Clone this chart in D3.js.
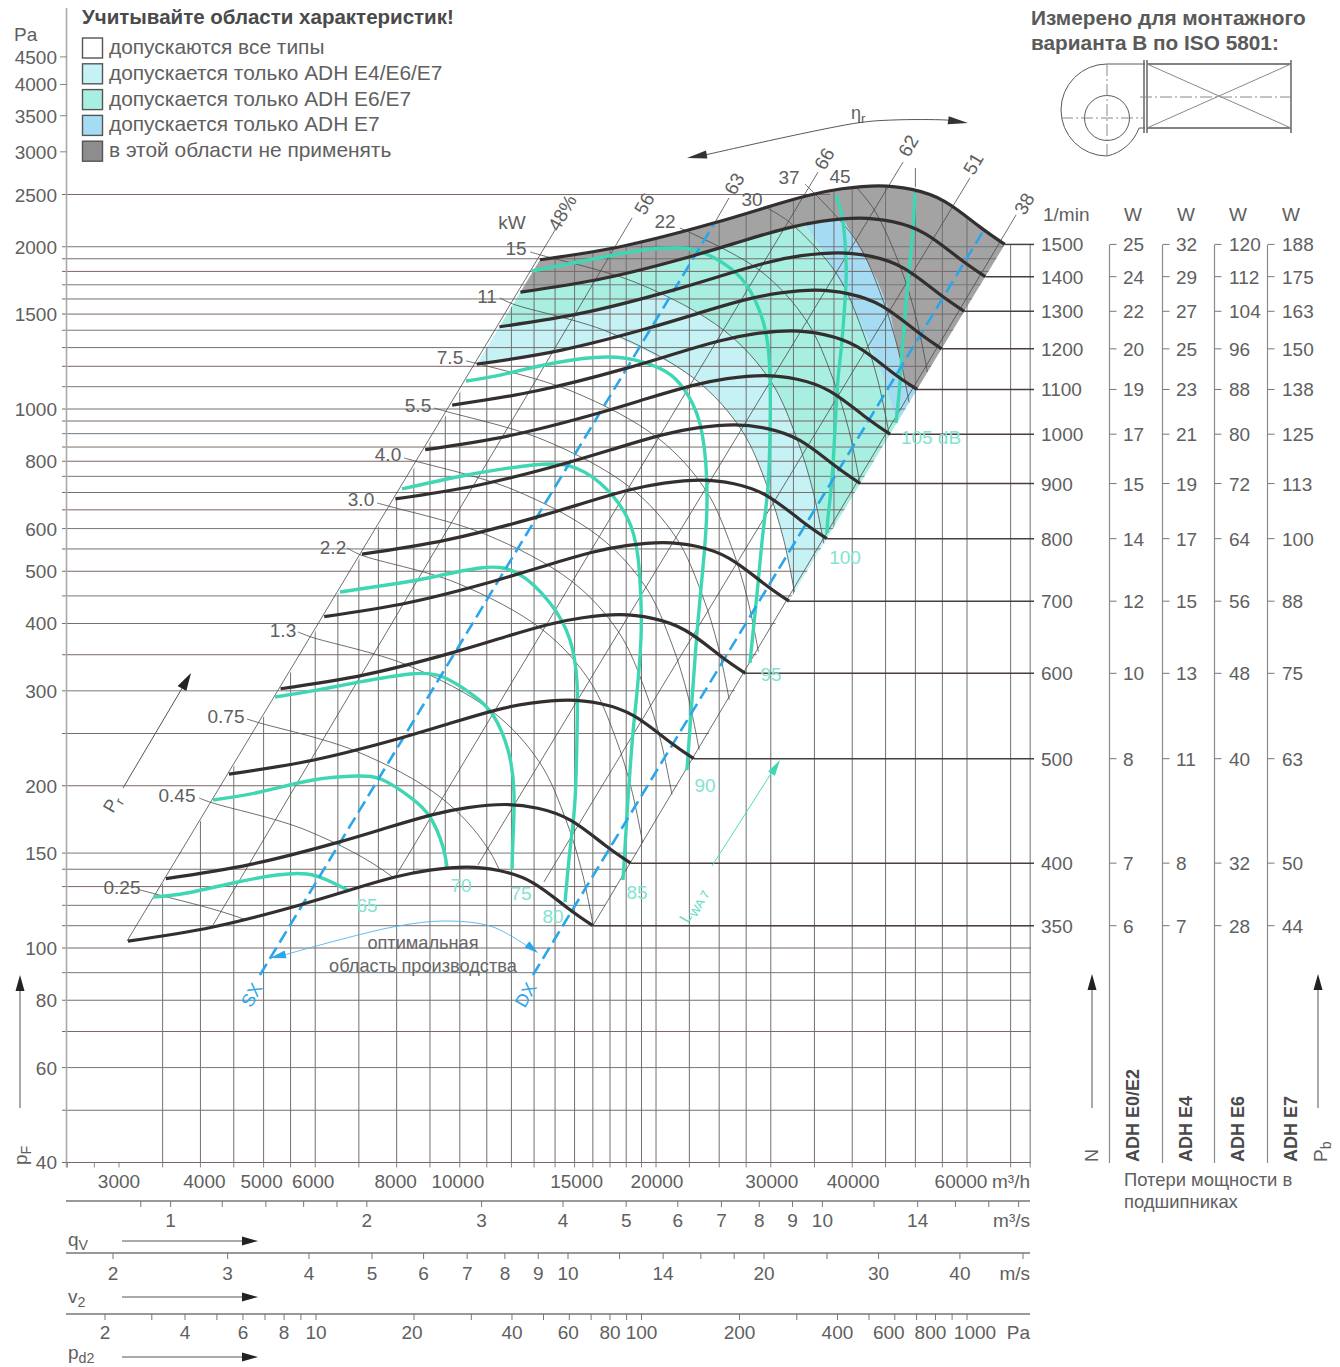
<!DOCTYPE html>
<html><head><meta charset="utf-8">
<script src="https://cdn.jsdelivr.net/npm/d3@7/dist/d3.min.js"></script>
<style>html,body{margin:0;padding:0;background:#fff}svg{display:block}text{font-family:"Liberation Sans",Arial,sans-serif;fill:#606060}</style>
</head><body><svg id="c" width="1340" height="1367"></svg>
<script>
// ---------- tick values ----------
const pressureLines=[2500,2000,1900,1800,1700,1600,1500,1400,1300,1200,1100,1000,950,900,850,800,750,700,650,600,550,500,450,400,350,300,250,200,150,140,130,120,110,100,90,80,70,60,50,40];
const pressureLabels=[4500,4000,3500,3000,2500,2000,1500,1000,800,600,500,400,300,200,150,100,80,60,40];
const flowLines=[3500,4000,4500,5000,5500,6000,7000,8000,9000,10000,11000,12000,13000,14000,15000,16000,17000,18000,19000,20000,22500,25000,27500,30000,35000,40000,45000,50000,55000,60000,70000,75000];
const flowLinesInner=[6500,7500,8500,9500,32500,37500];
const flowTicksExtra=[2500,2750,3000];
const flowLabels=[3000,4000,5000,6000,8000,10000,15000,20000,30000,40000,60000];
const secLabels=[1,2,3,4,5,6,7,8,9,10,14];
const secTicks=[0.9,1,1.2,1.4,1.6,1.8,2,3,4,5,6,7,8,9,10,12,14,16,18,20];
const velLabels=[2,3,4,5,6,7,8,9,10,14,20,30,40];
const velTicks=[2,3,4,5,6,7,8,9,10,12,14,16,18,20,25,30,40,50];
const dynLabels=[2,4,6,8,10,20,40,60,80,100,200,400,600,800,1000];
const dynTicks=[2,3,4,5,6,7,8,9,10,20,30,40,50,60,70,80,90,100,200,300,400,500,600,700,800,900,1000];
const rpmValues=[350,400,500,600,700,800,900,1000,1100,1200,1300,1400,1500];
const rpmEndPressure=[110,143.7,224.5,323.3,440,574.7,727.3,898,1087,1293,1518,1760,2020];
const rpmEndFlow=[16000,18286,22857,27429,32000,36571,41143,45714,50286,54857,59429,64000,68571];
const lossE0=[6,7,8,10,12,14,15,17,19,20,22,24,25];
const lossE4=[7,8,11,13,15,17,19,21,23,25,27,29,32];
const lossE6=[28,32,40,48,56,64,72,80,88,96,104,112,120];
const lossE7=[44,50,63,75,88,100,113,125,138,150,163,175,188];

// ---------- speed curves (flow m3/h, pressure Pa) ----------
const r350q=[3097,4180,5685,6784,7953,9000,10256,11523,12950,14600,16000];
const r350p=[103,109.4,120.2,128.1,135.4,139.5,141.3,139.1,132.1,118.9,110];
const r400q=[3540,4777,6497,7753,9089,10286,11721,13169,14800,16686,18286];
const r400p=[134.5,142.9,157,167.3,176.8,182.2,184.6,181.7,172.5,155.3,143.7];
const r500q=[4424,5971,8121,9691,11361,12857,14651,16461,18500,20857,22857];
const r500p=[210.2,223.3,245.3,261.4,276.3,284.7,288.4,283.9,269.6,242.7,224.5];
const r600q=[5309,7166,9746,11630,13634,15429,17582,19754,22200,25029,27429];
const r600p=[302.7,321.5,353.2,376.5,397.9,410,415.3,408.8,388.2,349.4,323.3];
const r700q=[6194,8360,11370,13568,15906,18000,20512,23046,25900,29200,32000];
const r700p=[412,437.6,480.8,512.4,541.6,558,565.2,556.4,528.4,475.6,440];
const r800q=[7079,9554,12994,15506,18178,20571,23442,26338,29600,33371,36571];
const r800p=[538,571.6,628,669.3,707.4,728.8,738.2,726.7,690.2,621.2,574.7];
const r900q=[7964,10749,14619,17445,20451,23143,26373,29631,33300,37543,41143];
const r900p=[681,723.4,794.8,847,895.3,922.4,934.3,919.8,873.5,786.2,727.3];
const r1000q=[8849,11943,16243,19383,22723,25714,29303,32923,37000,41714,45714];
const r1000p=[840.8,893,981.2,1045.7,1105,1138.8,1153.5,1135.5,1078.4,970.6,898];
const r1100q=[9734,13137,17867,21321,24995,28286,32233,36215,40700,45886,50286];
const r1100p=[1017,1081,1187,1265,1337,1378,1396,1374,1305,1174,1087];
const r1200q=[10618,14331,19491,23259,27267,30857,35163,39507,44400,50057,54857];
const r1200p=[1211,1286,1413,1506,1592,1640,1661,1635,1553,1398,1293];
const r1300q=[11503,15526,21116,25198,29540,33429,38094,42800,48100,54229,59429];
const r1300p=[1421,1509,1658,1767,1868,1925,1949,1919,1822,1640,1518];
const r1400q=[12388,16720,22740,27136,31812,36000,41024,46092,51800,58400,64000];
const r1400p=[1648,1750,1923,2050,2166,2232,2261,2226,2114,1902,1760];
const r1500q=[13273,17914,24364,29074,34084,38571,43954,49384,55500,62571,68571];
const r1500p=[1892,2009,2208,2353,2487,2562,2595,2555,2426,2184,2020];

// ---------- power curves ----------
const kw025q=[3231,3414,4790,6491];const kw025p=[128.1,125.9,111.7,91.4];
const kw045q=[3982,4152,5826,7896,9322];const kw045p=[189.8,186.2,165.2,135.2,108.7];
const kw075q=[4715,4923,6907,9361,11051,12113];const kw075p=[266,261.7,232.2,190,152.8,119.8];
const kw13q=[5646,5913,8297,11244,13275,14550,15400,16010];const kw13p=[385.8,377.6,335,274.1,220.4,172.8,138.4,110.3];
const kw22q=[6714,7047,9887,13400,15820,17339,18352,19079];const kw22p=[552.3,536.2,475.7,389.2,313,245.4,196.5,156.6];
const kw30q=[7465,7814,10964,14859,17543,19228,20351,21157];const kw30p=[669.2,659.4,585,478.7,384.9,301.8,241.7,192.6];
const kw40q=[8211,8601,12069,16356,19310,21165,22401,23288];const kw40p=[811.1,798.9,708.8,579.9,466.3,365.6,292.8,233.4];
const kw55q=[9130,9567,13424,18192,21478,23540,24916,25903];const kw55p=[1004,988.4,876.9,717.5,576.9,452.3,362.3,288.7];
const kw75q=[10220,10606,14881,20167,23810,26097,27621,28715];const kw75p=[1228,1215,1078,881.8,709,555.9,445.2,354.8];
const kw11q=[11527,12047,16903,22907,27045,29643,31374,32617];const kw11p=[1607,1567,1390,1138,914.8,717.2,574.5,457.8];
const kw15q=[12820,13362,18750,25409,29999,32880,34801,36179];const kw15p=[1956,1928,1711,1400,1126,882.4,706.8,563.3];
const kw220q=[21760,28870,34084,37358,39541,41107];const kw220p=[2167,1807,1453,1139,912.4,727.2];
const kw300q=[29390,32020,37803,41434,43855,45592];const kw300p=[2370,2223,1787,1401,1122,894.5];
const kw370q=[33840,40538,44431,47028,48889];const kw370p=[2615,2055,1611,1291,1029];
const kw450q=[40410,43257,47411,50181,52168];const kw450p=[2592,2340,1835,1470,1171];

// ---------- sound level curves ----------
const db65q=[3383,3815,4488,5242,5828,6256,6739];const db65p=[124.3,126.5,132,136.6,137.2,133.7,128];
const db70q=[4182,4936,5953,6955,7624,8388,9001,9423,9557];const db70p=[188.2,194.7,205,208.5,205,190.6,175,154,141.3];
const db75q=[5206,6039,7028,8388,9423,10477,11244,11856,12109,12066,12027];const db75p=[292.2,301,311.6,322.3,318.2,294.6,270.6,233,194,158.7,139.6];
const db80q=[6549,8097,9094,10737,12240,13751,14758,15131,15131,15023,14758,14504];const db80p=[457.6,475.5,487.9,507,496.3,436.7,372.8,310.2,250.5,188.2,152,121.7];
const db85q=[8154,10257,12950,14758,16410,18050,18765,18960,18960,18696,18434,18112,17796];const db85p=[710.7,754.4,787.1,783.7,729,630.4,531.4,442.3,372.8,297.2,250.5,188.2,133.7];
const db90q=[10220,11527,13950,16820,19100,21090,22470,23530,23950,23610,23110,22710,22310];const db90p=[1127,1156,1217,1249,1222,1156,1053,902.8,678,509.2,384.1,288.5,213.9];
const db95q=[12900,15780,19100,21690,23690,26530,28370,29490,29920,29920,29700,29180,28680,28170,27870];const db95p=[1803,1890,1972,1989,1947,1788,1593,1384,1147,902.8,716.8,588.8,475.5,384.1,338];
const db100q=[37770,38730,39150,39000,38460,37920,37350,36720,36600];const db100p=[2495,2214,1834,1593,1287,1085,780,630.4,588.8];
const db105q=[49920,49590,48870,48030,47340,46680];const db105p=[2516,2176,1788,1420,1118,941.9];

// ---------- efficiency lines [low end, high end] ----------
const etaValues=["48%","56","63","66","62","51","38"];
const etaQ=[[3086,13998],[4182,18378],[24550,25880],[7954,35450],[10660,47880],[13460,60630],[16000,71350]];
const etaP=[[103,2148],[110.3,2262],[2204,2463],[135.4,2752],[142.6,2873],[132.6,2683],[110,2291]];
const sxQ=[4936,24550];const sxP=[89.1,2204];
const dxQ=[12950,63690];const dxP=[89.1,2148];

// ---------- region borders ----------
const grayEdgeQ=[48030,47340,45730,43650,40410,38730];const grayEdgeP=[1137,1233,1507,1736,2058,2250];
const blueTopQ=[33840,36000,38730];const blueTopP=[2200,2232,2250];
const blueInnerQ=[46850,44590,42140,39270,35690];const blueInnerP=[941.9,1147,1360,1641,1999];

// ---------- scales ----------
const x=d3.scaleLog().domain([3000,60000]).range([119,967]);
const y=d3.scaleLog().domain([100,1000]).range([948,409]);
const secScale=v=>x(v*3600);
const velScale=d3.scaleLog().domain([10,50]).range([568,1023]);
const dynScale=d3.scaleLog().domain([2,4,10,1000]).range([105,185,316,967]);
const rpmY=d3.scaleOrdinal().domain(rpmValues).range(rpmEndPressure.map(p=>y(p)));

const zip=(q,p)=>q.map((v,i)=>[v,p[i]]);
const curved=d3.line().x(d=>x(d[0])).y(d=>y(d[1])).curve(d3.curveCatmullRom.alpha(0.5));
const natural=d3.line().x(d=>x(d[0])).y(d=>y(d[1])).curve(d3.curveNatural);
const straight=d3.line().x(d=>x(d[0])).y(d=>y(d[1]));
// join several pieces into one closed outline
function outline(...pieces){
  return pieces.map((pc,i)=>{
    const s=pc.g(pc.d).replace(/Z/g,'');
    return i?s.replace(/^M/,'L'):s;
  }).join('')+'Z';
}
const C=d=>({g:curved,d}),S=d=>({g:straight,d}),N=d=>({g:natural,d});
const rev=a=>a.slice().reverse();

const svg=d3.select('#c');
const defs=svg.append('defs');
const clip=(id,d)=>defs.append('clipPath').attr('id',id).append('path').attr('d',d);

const R350=zip(r350q,r350p),R1200=zip(r1200q,r1200p),R1300=zip(r1300q,r1300p),R1400=zip(r1400q,r1400p),R1500=zip(r1500q,r1500p);
const K11=zip(kw11q,kw11p),K15=zip(kw15q,kw15p);

clip('belowTop',outline(S([[3097,38],[3097,103],[13273,1892]]),N(R1500),S([[76000,2020],[76000,38]])));
clip('hClip',outline(S([[2400,2800],[37000,2800],[37000,2400],[55500,2426],[62571,2184],[68571,2020],[16000,110],[80000,110],[80000,38],[2400,38]])));
clip('para',outline(N(R350),N(rev(R1500))));
clip('aboveLow',outline(S([[2000,6000],[90000,6000],[90000,110]]),N(rev(R350)),S([[2000,103]])));

// ---------- filled regions ----------
const gFill=svg.append('g');
const teal='#a9efe1',cyan='#c6f2f6',blue='#a5dcf4',gray='#a3a3a3';
const cross1300=[20500,1640],cross1200=[17120,1372];
const k15tail=K15.slice(3);
const k11tail=K11.slice(3);
gFill.append('path').attr('fill',cyan).attr('d',outline(
  C([R1300[0],R1300[1],cross1300]),C([cross1300].concat(k15tail)),
  S([K11[K11.length-1]]),C(rev(k11tail).concat([cross1200])),C([cross1200,R1200[1],R1200[0]])));
const blueTop=zip(blueTopQ,blueTopP),blueInner=zip(blueInnerQ,blueInnerP),grayEdge=zip(grayEdgeQ,grayEdgeP);
gFill.append('path').attr('fill',teal).attr('d',outline(
  C(R1400.slice(0,5).concat([blueTop[0]])),C(rev(blueInner)),
  S([K15[K15.length-1]]),C(rev(k15tail).concat([cross1300])),C([cross1300,R1300[1],R1300[0]])));
gFill.append('path').attr('fill',blue).attr('d',outline(
  C(blueTop),S(rev(grayEdge)),S([[50286,1087]]),S(blueInner)));
gFill.append('path').attr('fill',gray).attr('d',outline(
  N(R1500),S([[50286,1087]]),S(grayEdge),C(rev(R1400.slice(0,6)))));

// ---------- grid ----------
const gGrid=svg.append('g');
const hCols=['#7c6666','#6e7b80','#75706a'];
gGrid.append('g').attr('clip-path','url(#hClip)').selectAll('line').data(pressureLines).join('line')
  .attr('x1',62).attr('x2',1031).attr('y1',d=>y(d)).attr('y2',d=>y(d))
  .attr('stroke',(d,i)=>hCols[i%3]).attr('stroke-width',1);
gGrid.append('g').attr('clip-path','url(#belowTop)').selectAll('line').data(flowLines).join('line')
  .attr('x1',d=>x(d)).attr('x2',d=>x(d)).attr('y1',y(40)).attr('y2',150)
  .attr('stroke','#707070').attr('stroke-width',1);
gGrid.append('g').attr('clip-path','url(#para)').selectAll('line').data(flowLinesInner).join('line')
  .attr('x1',d=>x(d)).attr('x2',d=>x(d)).attr('y1',y(40)).attr('y2',150)
  .attr('stroke','#707070').attr('stroke-width',1);
gGrid.append('line').attr('x1',x(50000)).attr('x2',x(50000)).attr('y1',y(2580)).attr('y2',y(2800)).attr('stroke','#707070');
gGrid.append('line').attr('x1',66.5).attr('x2',66.5).attr('y1',8).attr('y2',y(40)+5).attr('stroke','#aaa').attr('stroke-width',1.6);
gGrid.append('line').attr('x1',66).attr('x2',1031).attr('y1',y(40)).attr('y2',y(40)).attr('stroke','#7c6666').attr('stroke-width',1.2);
// ticks under main axis
gGrid.selectAll('.bt').data(flowLines.concat(flowTicksExtra)).join('line')
  .attr('x1',d=>x(d)).attr('x2',d=>x(d)).attr('y1',y(40)).attr('y2',y(40)+5).attr('stroke','#888');
pressureLabels.filter(v=>v>2500).forEach(v=>{
  gGrid.append('line').attr('x1',60).attr('x2',67).attr('y1',y(v)).attr('y2',y(v)).attr('stroke','#888');
});

// ---------- thin power and efficiency lines ----------
const gThin=svg.append('g').attr('fill','none').attr('stroke','#4a4a4a').attr('stroke-width',0.8);
const kwCurves=[[kw025q,kw025p],[kw045q,kw045p],[kw075q,kw075p],[kw13q,kw13p],[kw22q,kw22p],[kw30q,kw30p],[kw40q,kw40p],[kw55q,kw55p],[kw75q,kw75p],[kw11q,kw11p],[kw15q,kw15p],[kw220q,kw220p],[kw300q,kw300p],[kw370q,kw370p],[kw450q,kw450p]];
gThin.append('g').attr('clip-path','url(#aboveLow)').selectAll('path').data(kwCurves).join('path').attr('d',d=>curved(zip(d[0],d[1])));
gThin.selectAll('.eta').data(etaQ).join('path').attr('d',(d,i)=>straight(zip(d,etaP[i])));

// ---------- sound level curves ----------
const dbCurves=[[db65q,db65p],[db70q,db70p],[db75q,db75p],[db80q,db80p],[db85q,db85p],[db90q,db90p],[db95q,db95p],[db100q,db100p],[db105q,db105p]];
svg.append('g').attr('fill','none').attr('stroke','#3fd6b4').attr('stroke-width',3.4)
  .selectAll('path').data(dbCurves).join('path').attr('d',d=>natural(zip(d[0],d[1])));

// ---------- dashed optimum lines ----------
svg.append('g').attr('fill','none').attr('stroke','#2ba6ea').attr('stroke-width',2.6).attr('stroke-dasharray','13 6')
  .selectAll('path').data([[sxQ,sxP],[dxQ,dxP]]).join('path').attr('d',d=>straight(zip(d[0],d[1])));

// ---------- speed curves ----------
const speedCurves=[[r350q,r350p],[r400q,r400p],[r500q,r500p],[r600q,r600p],[r700q,r700p],[r800q,r800p],[r900q,r900p],[r1000q,r1000p],[r1100q,r1100p],[r1200q,r1200p],[r1300q,r1300p],[r1400q,r1400p],[r1500q,r1500p]];
svg.append('g').selectAll('line').data(rpmValues).join('line')
  .attr('x1',(d,i)=>x(rpmEndFlow[i])).attr('x2',1034).attr('y1',d=>rpmY(d)).attr('y2',d=>rpmY(d))
  .attr('stroke','#4b3e3e').attr('stroke-width',1.5);
svg.append('g').attr('fill','none').attr('stroke','#332f2e').attr('stroke-width',3.2)
  .selectAll('path').data(speedCurves).join('path').attr('d',d=>natural(zip(d[0],d[1])));

// ---------- text helper ----------
const gT=svg.append('g');
function T(px,py,s,o={}){
  const t=gT.append('text').attr('x',px).attr('y',py).attr('font-size',o.size||19).attr('text-anchor',o.anchor||'start').text(s);
  if(o.weight)t.attr('font-weight',o.weight);
  if(o.color)t.style('fill',o.color);
  if(o.rot!==undefined)t.attr('transform',`rotate(${o.rot} ${px} ${py})`);
  if(o.sub){t.append('tspan').attr('dy',4).attr('font-size',(o.size||19)*0.75).text(o.sub);}
  return t;
}
function head(px,py,deg,col,len=16,w=4.5){
  svg.append('path').attr('d',`M0 0L${-len} ${-w}L${-len} ${w}Z`).attr('fill',col).attr('transform',`translate(${px} ${py}) rotate(${deg})`);
}
function seg(a,b,c,d,col='#555',sw=1){svg.append('line').attr('x1',a).attr('y1',b).attr('x2',c).attr('y2',d).attr('stroke',col).attr('stroke-width',sw);}

// legend
T(82,24,'Учитывайте области характеристик!',{size:20.5,weight:'bold',color:'#4a4a4a'});
const legendText=['допускаются все типы','допускается только ADH E4/E6/E7','допускается только ADH E6/E7','допускается только ADH E7','в этой области не применять'];
const legendFill=['#fff',cyan,teal,blue,'#8d8d8d'];
legendText.forEach((s,i)=>{
  const yy=38+i*25.8;
  svg.append('rect').attr('x',82.5).attr('y',yy).attr('width',20).attr('height',20).attr('fill',legendFill[i]).attr('stroke','#555').attr('stroke-width',1.4);
  T(109,yy+16,s,{size:20.9});
});
T(1031,25,'Измерено для монтажного',{size:20.8,weight:'bold',color:'#5a5a5a'});
T(1031,50,'варианта B по ISO 5801:',{size:20.8,weight:'bold',color:'#5a5a5a'});

// fan sketch
const fan=svg.append('g').attr('fill','none').attr('stroke','#5a5a5a').attr('stroke-width',1);
fan.append('path').attr('d','M1145 64L1107 64A46 46 0 1 0 1107 156A44 44 0 0 0 1139 128L1145 128');
fan.append('circle').attr('cx',1107).attr('cy',118).attr('r',22.5);
fan.append('path').attr('stroke-width',1.4).attr('d','M1144 60V133M1147 60V133M1147 64H1291M1147 128H1291M1291 60V133');
fan.append('path').attr('stroke','#888').attr('d','M1147 64L1291 128M1147 128L1291 64');
fan.append('path').attr('stroke','#888').attr('stroke-dasharray','12 3 2 3').attr('d','M1061 118H1145M1107 64V156M1140 97H1295');

// left axis labels
T(14,41,'Pa');
pressureLabels.forEach(v=>T(57,y(v)+7,String(v),{anchor:'end'}));
T(27,1165,'p',{rot:-90,sub:'F'});
seg(20,1108,20,985);head(20,975,-90,'#222');
// bottom axis labels
const flowLabelShift=[0,4,-2,-2,-1,-2,2,1,1,1,-6];
flowLabels.forEach((v,i)=>T(x(v)+flowLabelShift[i],1188,String(v),{anchor:'middle'}));
T(1030,1188,'m³/h',{anchor:'end'});
// secondary axes
function axisLine(yy,ticks,fn){
  seg(66,yy,1030,yy,'#777',1.4);
  svg.append('g').selectAll('line').data(ticks).join('line').attr('x1',fn).attr('x2',fn).attr('y1',yy).attr('y2',yy+6).attr('stroke','#777');
}
axisLine(1201,secTicks,secScale);
axisLine(1253,velTicks,velScale);
axisLine(1314,dynTicks,dynScale);
secLabels.forEach(v=>T(secScale(v),1227,String(v),{anchor:'middle'}));
T(1030,1227,'m³/s',{anchor:'end'});
velLabels.forEach(v=>T(velScale(v),1280,String(v),{anchor:'middle'}));
T(1030,1280,'m/s',{anchor:'end'});
const dynShift=[0,0,0,0,0,-2,0,-1,0,0,0,0,-6,-5,8];
dynLabels.forEach((v,i)=>T(dynScale(v)+dynShift[i],1339,String(v),{anchor:'middle'}));
T(1030,1339,'Pa',{anchor:'end'});
T(68,1246,'q',{sub:'V'});T(68,1303,'v',{sub:'2'});T(68,1359,'p',{sub:'d2'});
[1241,1297,1357].forEach(yy=>{seg(122,yy,245,yy);head(258,yy,0,'#222');});

// rpm column and bearing loss columns
T(1043,221,'1/min');
rpmValues.forEach(v=>T(1041,rpmY(v)+7,String(v)));
const cols=[[1109.5,1123,lossE0,1133,'ADH E0/E2'],[1162.5,1176,lossE4,1186,'ADH E4'],[1214.5,1229,lossE6,1238,'ADH E6'],[1267.5,1282,lossE7,1291,'ADH E7']];
cols.forEach(c=>{
  seg(c[0],245,c[0],1163,'#8a8a8a',1.2);
  T(c[3],221,'W',{anchor:'middle'});
  rpmValues.forEach((v,i)=>{
    seg(c[0],rpmY(v),c[0]+7,rpmY(v),'#777',1);
    T(c[1],rpmY(v)+7,String(c[2][i]));
  });
  T(c[3]+6,1162,c[4],{rot:-90,size:18,weight:'bold',color:'#4a4a4a'});
});
T(1098,1162,'N',{rot:-90,size:18});
seg(1092,1108,1092,985);head(1092,974,-90,'#222');
T(1327,1162,'P',{rot:-90,sub:'b'});
seg(1318,1108,1318,985);head(1318,974,-90,'#222');
T(1124,1186,'Потери мощности в',{size:18.4});
T(1124,1208,'подшипниках',{size:18.4});

// kW labels
const kwLabelTxt=['kW','15','11','7.5','5.5','4.0','3.0','2.2','1.3','0.75','0.45','0.25','22','30','37','45'];
const kwLabelX=[512,516,487,450,418,388,361,333,283,226,177,122,665,752,789,840];
const kwLabelY=[229,255,303,364,412,461,506,554,637,723,802,894,228,206,184,183];
kwLabelTxt.forEach((s,i)=>T(kwLabelX[i],kwLabelY[i],s,{anchor:'middle'}));
// efficiency labels
const etaLabelX=[568,650,740,830,914,979,1030];
const etaLabelY=[216,207,187,162,149,167,207];
etaValues.forEach((s,i)=>T(etaLabelX[i],etaLabelY[i],s,{anchor:'middle',rot:-60}));
// dB labels
const dbTxt=['65','70','75','80','85','90','95','100','105 dB'];
const dbX=[367,461,521,553,637,705,771,845,931];
const dbY=[912,892,900,923,899,792,681,564,444];
dbTxt.forEach((s,i)=>T(dbX[i],dbY[i],s,{anchor:'middle',color:'#83e3d1'}));

// annotations
T(423,949,'оптимальная',{anchor:'middle',size:18.2,color:'#666'});
T(423,972,'область производства',{anchor:'middle',size:18.2,color:'#666'});
svg.append('path').attr('fill','none').attr('stroke','#4fb6ea').attr('stroke-width',0.9)
  .attr('d',d3.line().curve(d3.curveCatmullRom)([[277,957],[393,927],[447,921],[493,927],[533,950]]));
head(270,958,167,'#2ba6ea',16,4);head(538,953,38,'#2ba6ea',14,4);
T(257,998,'SX',{rot:-60,color:'#2ba6ea',anchor:'middle',size:18});
T(531,998,'DX',{rot:-60,color:'#2ba6ea',anchor:'middle',size:18});
svg.append('path').attr('fill','none').attr('stroke','#444').attr('stroke-width',0.9)
  .attr('d',d3.line().curve(d3.curveCatmullRom)([[705,155],[857,123],[893,120],[946,120],[955,121]]));
head(687,158,170,'#333',20,4);head(968,123,8,'#333',20,4);
T(851,119,'η',{size:18,sub:'r'});
seg(123,788,184,685);head(191,673,-60,'#222',18,5);
T(113,814,'P',{rot:-60,size:18,sub:'r'});
seg(712,866,772,772,'#4fd9bd',1);head(780,760,-58,'#3fd6b4',16,4);
T(688,924,'L',{rot:-60,size:16,color:'#5fdcc3',sub:'WA 7'});
</script></body></html>
